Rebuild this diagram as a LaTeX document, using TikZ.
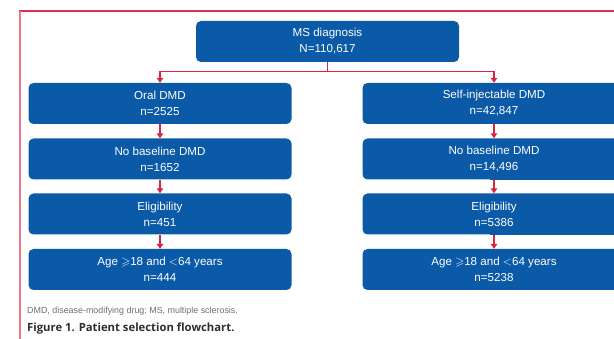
\documentclass[tikz,border=0pt]{standalone}
\usepackage{amssymb}
\usepackage{fontspec}
\setmainfont{Liberation Sans}
\newfontfamily\capfont{Open Sans}
\usetikzlibrary{arrows.meta}
\definecolor{boxblue}{HTML}{0A5AA8}
\definecolor{arrred}{HTML}{DC2340}
\definecolor{framered}{HTML}{D8304E}
\definecolor{framepink}{HTML}{E8788E}
\definecolor{notegray}{HTML}{6E6E6E}
\definecolor{capgray}{HTML}{2E2E2E}
\tikzset{
  x=1pt, y=-1pt,
  flowbox/.style={draw=none, fill=boxblue, rounded corners=5pt, minimum width=263pt, minimum height=41pt,
    text=white, align=center, inner sep=0pt, font=\fontsize{11.6}{16}\selectfont},
  ext/.style={fill=boxblue, draw=none},
  conn/.style={draw=arrred, line width=1.2pt, -{Triangle[length=5pt,width=6.5pt]}},
  plainconn/.style={draw=arrred, line width=1.2pt},
}
\begin{document}
\begin{tikzpicture}
\useasboundingbox (0,0) rectangle (614,339);
\clip (0,0) rectangle (614,339);
% frame
\draw[framered, line width=1.5pt] (19,11) -- (620,11);
\draw[framepink, line width=2pt] (20,11) -- (20,345);
% right-column box extensions (cropped at the right edge)
\foreach \yy in {83,139,194,249} {
  \fill[ext] (490,\yy) rectangle (640,\yy+41);
}
% nodes
\node[flowbox] (ms) at (327.5,41.5) {MS diagnosis\\N=110,617};
\node[flowbox] (oral) at (160,103.5) {Oral DMD\\n=2525};
\node[flowbox] (oralnb) at (160,159) {No baseline DMD\\n=1652};
\node[flowbox] (oralel) at (160,214) {Eligibility\\n=451};
\node[flowbox] (oralage) at (160,269.5) {Age $\geqslant$18 and $<$64 years\\n=444};
\node[flowbox] (inj) at (494,103.5) {Self-injectable DMD\\n=42,847};
\node[flowbox] (injnb) at (494,159) {No baseline DMD\\n=14,496};
\node[flowbox] (injel) at (494,214) {Eligibility\\n=5386};
\node[flowbox] (injage) at (494,269.5) {Age $\geqslant$18 and $<$64 years\\n=5238};
% connectors
\coordinate (split) at (ms.south |- 0,71.5);
\draw[plainconn] (ms.south) -- (split);
\draw[conn] (split) -| (oral.north);
\draw[conn] (split) -| (inj.north);
\draw[conn] (oral) -- (oralnb);
\draw[conn] (oralnb) -- (oralel);
\draw[conn] (oralel) -- (oralage);
\draw[conn] (inj) -- (injnb);
\draw[conn] (injnb) -- (injel);
\draw[conn] (injel) -- (injage);
% notes
\node[anchor=base west, inner sep=0pt, text=notegray, font=\fontsize{8.9}{10}\selectfont] (note) at (27,314)
  {DMD, disease-modifying drug; MS, multiple sclerosis.};
\node[anchor=base west, inner sep=0pt, text=capgray, font=\capfont\bfseries\fontsize{11.3}{13}\selectfont] (cap) at (27,331.5)
  {Figure 1. Patient selection flowchart.};
\end{tikzpicture}
\end{document}
